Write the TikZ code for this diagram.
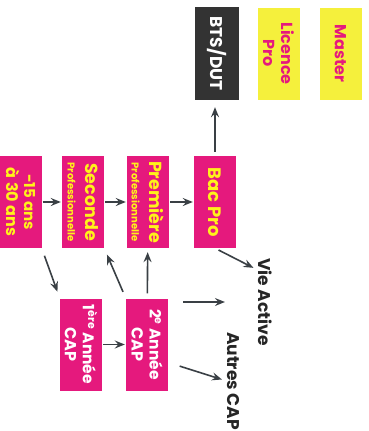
\documentclass[tikz,border=0pt]{standalone}
\usepackage{fontspec}
\setmainfont{Poppins}
\usepackage{xcolor}
\usetikzlibrary{arrows.meta}

\definecolor{pinkbox}{HTML}{E5197D}
\definecolor{yellowtxt}{HTML}{FFF21A}
\definecolor{yellowbox}{HTML}{F5F03C}
\definecolor{darkbox}{HTML}{333333}
\definecolor{arrowgray}{HTML}{3A4045}

\begin{document}
\begin{tikzpicture}
        [x=1pt,y=-1pt,
        filiere/.style={rectangle,fill=pinkbox,text=yellowtxt,rotate=-90,minimum width=92pt,minimum height=42pt,inner sep=2pt,align=center,font=\bfseries\fontsize{16}{18}\selectfont},
        capbox/.style={filiere,text=white},
        suite/.style={filiere,fill=yellowbox,text=pinkbox},
        sortie/.style={rotate=-90,inner sep=0pt,text=black!85,font=\bfseries\fontsize{17}{20}\selectfont},
        fleche/.style={-{Stealth[length=10pt,width=8pt,inset=3.5pt]},line width=1.6pt,draw=arrowgray,shorten <=1pt,shorten >=1pt}]

\useasboundingbox (0,0) rectangle (368,431);

\begin{scope}

% boxes
\node[filiere] at (20.5,202) (jeunes) {\fontsize{15}{16.5}\selectfont -15 ans\\à 30 ans};

\node[filiere] at (83,202) (seconde) {{\fontsize{17.5}{19}\selectfont Seconde}\\{\fontsize{10}{11}\selectfont Professionnelle}};

\node[filiere] at (148,202) (premiere) {{\fontsize{17.5}{19}\selectfont Première}\\{\fontsize{10}{11}\selectfont Professionnelle}};

\node[filiere] at (215,202) (bacpro) {\fontsize{18}{20}\selectfont Bac Pro};

\node[filiere,fill=darkbox,text=white,minimum width=93pt,minimum height=44pt] at (217,53.5) (btsdut) {\fontsize{17}{20}\selectfont BTS/DUT};

\node[suite] at (278.5,53.5) (licence) {Licence\\Pro};

\node[suite] at (340.5,53.5) (master) {Master};

\node[capbox] at (81,344.5) (cap1) {\fontsize{15.5}{16.5}\selectfont 1\textsuperscript{ère} Année\\CAP};

\node[capbox] at (147,344.5) (cap2) {\fontsize{15.5}{16.5}\selectfont 2\textsuperscript{e} Année\\CAP};

\node[sortie] at (265,302) (vie) {Vie Active};

\node[sortie] at (233,381) (autres) {Autres CAP};


%arrows
\draw[fleche] (jeunes) -- (seconde);
\draw[fleche] (seconde) -- (premiere);
\draw[fleche] (premiere) -- (bacpro);
\draw[fleche,shorten <=4pt,shorten >=7pt] (bacpro.west) -- (bacpro.west |- btsdut.east);
\draw[fleche,shorten <=8pt,shorten >=7pt] (jeunes.north east) -- (cap1.south west);
\draw[fleche,shorten <=7pt,shorten >=7pt] (cap2.south west) -- (seconde.north east);
\draw[fleche,shorten <=5pt,shorten >=4pt] (cap2) -- (premiere);
\draw[fleche] (cap1) -- (cap2);
\draw[fleche,shorten <=4pt,shorten >=5pt] (bacpro.east) -- ([yshift=-12pt]vie.south west);
\draw[fleche,shorten <=15pt,shorten >=33pt] (cap2.north west |- vie.south) -- (vie.south);
\draw[fleche,shorten <=12pt,shorten >=5pt] ([yshift=-18pt]cap2.north) -- (autres.south);

\end{scope}

\end{tikzpicture}
\end{document}
